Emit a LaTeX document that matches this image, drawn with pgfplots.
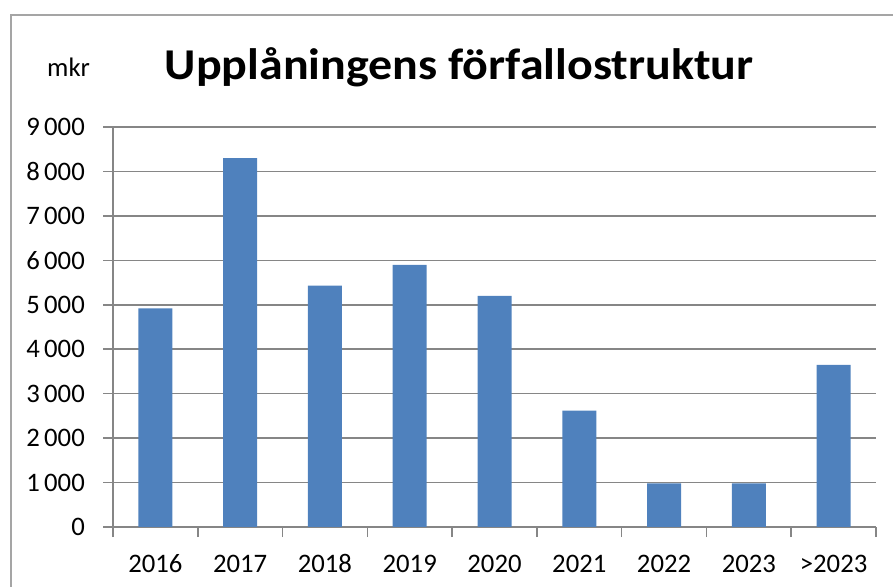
\documentclass[border=0pt]{standalone}
\usepackage{graphicx}
\usepackage{pgfplots}
\pgfplotsset{compat=1.18}
\usepackage{fontspec}
\setmainfont{Carlito}
\definecolor{barblue}{RGB}{79,129,189}
\definecolor{axgray}{RGB}{134,134,134}
\definecolor{bordergray}{RGB}{165,165,165}
\begin{document}
\begin{tikzpicture}
\useasboundingbox (0bp,0bp) rectangle (893bp,587bp);
\draw[bordergray, line width=2bp] (11bp,0bp) -- (11bp,572bp) -- (893bp,572bp);
\begin{axis}[
  at={(113bp,60bp)}, anchor=south west, scale only axis,
  width=763bp, height=400bp,
  xmin=-0.5, xmax=8.5, ymin=0, ymax=9000,
  axis lines*=left,
  axis line style={axgray, line width=1.5bp, -},
  xtick={-0.5,0.5,...,8.5},
  x tick label as interval,
  xticklabels={2016,2017,2018,2019,2020,2021,2022,2023,>2023},
  ytick={0,1000,...,9000},
  tick align=outside,
  major tick length=10bp,
  tick style={axgray, line width=1.5bp},
  ymajorgrids,
  major grid style={axgray, line width=1.5bp},
  tick label style={font=\fontsize{26.7bp}{32bp}\selectfont, text=black, inner sep=0pt},
  xticklabel style={anchor=north, yshift=-18bp, text height=17bp, text depth=0pt},
  yticklabel style={anchor=east, xshift=-18bp},
  /pgf/number format/.cd, assume math mode=true, 1000 sep={\hspace{0.16em}},
]
\addplot[ybar, bar width=34bp, fill=barblue, draw=none] coordinates {
(0,4920) (1,8300) (2,5430) (3,5900) (4,5200) (5,2620) (6,980) (7,980) (8,3650)};
\end{axis}
\node[anchor=base, inner sep=0pt, font=\fontsize{44bp}{50bp}\selectfont\bfseries] at (459bp,507bp) {\scalebox{1.09}[1]{Upplåningens förfallostruktur}};
\node[anchor=base west, inner sep=0pt, font=\fontsize{26.7bp}{32bp}\selectfont] at (47bp,510bp) {mkr};
\end{tikzpicture}
\end{document}
